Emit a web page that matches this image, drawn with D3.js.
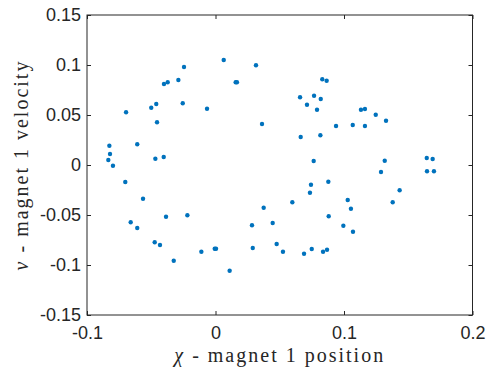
<!DOCTYPE html>
<html lang="en">
<head>
<meta charset="UTF-8">
<title>Magnet 1 phase portrait</title>
<style>
  body { margin: 0; background: #fff; }
  svg { display: block; }
</style>
</head>
<body>
<svg width="489" height="376"></svg>
<script src="https://d3js.org/d3.v7.min.js"></script>
<script>
// position (chi) and velocity (v) samples
const chi = [
  -0.0826, -0.0821, -0.0834, -0.0798, -0.0696, -0.0609, -0.0500, -0.0461, -0.0455, -0.0468,
  -0.0403, -0.0401, -0.0372, -0.0289, -0.0245, -0.0255, -0.0066, 0.0064, 0.0157, 0.0167,
  0.0315, 0.0362, 0.0831, 0.0865, 0.0658, 0.0712, 0.0767, 0.0819, 0.0790, 0.0938,
  0.1068, 0.1132, 0.1163, 0.1247, 0.1327, 0.1163, 0.0663, 0.0816, 0.0764, 0.1317,
  0.1288, 0.1644, 0.1690, 0.1646, 0.1700, 0.0878, -0.0702, -0.0564, -0.0660, -0.0609,
  -0.0385, -0.0219, -0.0473, -0.0432, -0.0325, -0.0110, -0.0006, 0.0004, 0.0110, 0.0284,
  0.0290, 0.0375, 0.0445, 0.0476, 0.0743, 0.0735, 0.0598, 0.1029, 0.1054, 0.1379,
  0.1433, 0.0881, 0.0995, 0.1070, 0.0525, 0.0689, 0.0749, 0.0837, 0.0868
];
const vel = [
  0.0193, 0.0110, 0.0050, -0.0007, 0.0527, 0.0207, 0.0573, 0.0610, 0.0427, 0.0063,
  0.0080, 0.0810, 0.0827, 0.0850, 0.0980, 0.0617, 0.0563, 0.1050, 0.0827, 0.0827,
  0.0997, 0.0410, 0.0857, 0.0843, 0.0677, 0.0603, 0.0693, 0.0660, 0.0553, 0.0390,
  0.0400, 0.0553, 0.0560, 0.0503, 0.0443, 0.0390, 0.0280, 0.0297, 0.0040, 0.0043,
  -0.0070, 0.0070, 0.0060, -0.0063, -0.0063, -0.0167, -0.0170, -0.0337, -0.0573, -0.0630,
  -0.0517, -0.0503, -0.0773, -0.0800, -0.0957, -0.0867, -0.0837, -0.0837, -0.1057, -0.0603,
  -0.0830, -0.0427, -0.0580, -0.0790, -0.0197, -0.0277, -0.0373, -0.0350, -0.0437, -0.0373,
  -0.0253, -0.0513, -0.0607, -0.0667, -0.0867, -0.0887, -0.0840, -0.0867, -0.0847
];
const xTicks = [-0.1, 0, 0.1, 0.2];
const yTicks = [-0.15, -0.1, -0.05, 0, 0.05, 0.1, 0.15];

const svg = d3.select("svg");
const margin = {top: 15, right: 16.5, bottom: 61, left: 87};
const width = 489 - margin.left - margin.right;
const height = 376 - margin.top - margin.bottom;
const g = svg.append("g").attr("transform", `translate(${margin.left},${margin.top})`);

const x = d3.scaleLinear().domain([-0.1, 0.2]).range([0, width]);
const y = d3.scaleLinear().domain([-0.15, 0.15]).range([height, 0]);

const axisColor = "#262626";
// matlab style labels: plain hyphen, no trailing zeros
const fmt = d => String(+d.toFixed(2));

// box
g.append("rect")
  .attr("width", width).attr("height", height)
  .attr("fill", "none").attr("stroke", axisColor).attr("stroke-width", 1);

function styleAxis(sel) {
  sel.select(".domain").remove();
  sel.selectAll("line").attr("stroke", axisColor);
  sel.selectAll("text")
    .attr("fill", axisColor)
    .style("font-family", "'Liberation Sans', Arial, sans-serif")
    .style("font-size", "18px");
}

g.append("g").attr("transform", `translate(0,${height})`)
  .call(d3.axisBottom(x).tickValues(xTicks).tickSizeInner(-4).tickSizeOuter(0).tickPadding(11).tickFormat(fmt))
  .call(styleAxis);
g.append("g")
  .call(d3.axisTop(x).tickValues(xTicks).tickSizeInner(-4).tickSizeOuter(0).tickFormat(""))
  .call(styleAxis);
g.append("g")
  .call(d3.axisLeft(y).tickValues(yTicks).tickSizeInner(-4).tickSizeOuter(0).tickPadding(6).tickFormat(fmt))
  .call(styleAxis);
g.append("g").attr("transform", `translate(${width},0)`)
  .call(d3.axisRight(y).tickValues(yTicks).tickSizeInner(-4).tickSizeOuter(0).tickFormat(""))
  .call(styleAxis);

// points
g.append("g").selectAll("circle")
  .data(chi.map((c, i) => [c, vel[i]]))
  .join("circle")
  .attr("cx", d => x(d[0]))
  .attr("cy", d => y(d[1]))
  .attr("r", 2.2)
  .attr("fill", "#0072BD");

// axis labels (latex-ish serif, spaced out a bit like computer modern)
const labelFont = "'Liberation Serif', serif";
const xl = svg.append("text")
  .attr("x", margin.left + width / 2).attr("y", 362)
  .attr("text-anchor", "middle")
  .style("font-family", labelFont).style("font-size", "20px")
  .style("letter-spacing", "2px").attr("fill", axisColor);
xl.append("tspan").style("font-style", "italic").text("χ");
xl.append("tspan").text(" - magnet 1 position");

const yl = svg.append("text")
  .attr("transform", `translate(28,${margin.top + height / 2}) rotate(-90)`)
  .attr("text-anchor", "middle")
  .style("font-family", labelFont).style("font-size", "20px")
  .style("letter-spacing", "2px").attr("fill", axisColor);
yl.append("tspan").style("font-style", "italic").text("v");
yl.append("tspan").text(" - magnet 1 velocity");
</script>
</body>
</html>
